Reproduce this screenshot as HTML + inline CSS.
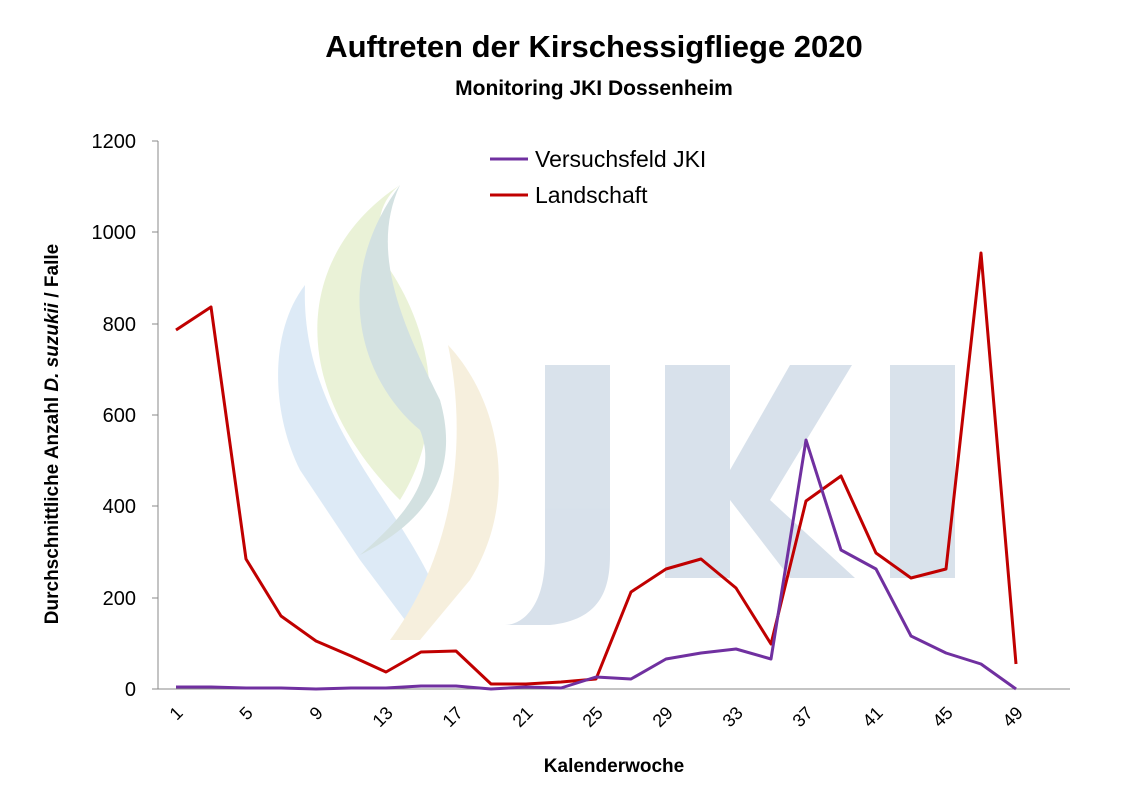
<!DOCTYPE html>
<html><head><meta charset="utf-8"><style>
body{margin:0;background:#fff;}
svg{display:block;font-family:"Liberation Sans",Calibri,sans-serif;}
</style></head><body>
<svg width="1132" height="800" viewBox="0 0 1132 800">
<rect width="1132" height="800" fill="#fff"/>
<g opacity="0.5">
<path d="M305 285 C270 330,270 410,300 470 L360 560 L420 640 L440 600 C400 500,300 420,305 285Z" fill="#bcd7ef"/>
<path d="M400 185 C300 250,280 380,400 500 C450 420,430 330,390 270 C370 230,380 200,400 185Z" fill="#d6e6b0"/>
<path d="M448 345 C500 400,520 500,470 580 L420 640 L390 640 C450 560,470 450,448 345Z" fill="#efe0bc"/>
<path d="M400 185 C330 280,360 380,420 430 C440 480,400 520,360 555 C430 520,460 470,440 400 C400 320,370 250,400 185Z" fill="#a8c4c4"/>
<g fill="#b3c5d8">
<rect x="545" y="365" width="65" height="190"/>
<path d="M545 555 C545 610,520 625,505 625 L550 625 C600 620,610 590,610 555Z"/>
<rect x="665" y="365" width="65" height="213"/>
<path d="M730 470 L790 365 L852 365 L770 500 L855 578 L790 578 L730 500Z"/>
<rect x="890" y="365" width="65" height="213"/>
</g>
</g>
<text x="594" y="57" font-size="31" font-weight="bold" text-anchor="middle">Auftreten der Kirschessigfliege 2020</text>
<text x="594" y="95" font-size="21" font-weight="bold" text-anchor="middle">Monitoring JKI Dossenheim</text>
<line x1="158" y1="141" x2="158" y2="689" stroke="#888"/>
<line x1="158" y1="689" x2="1070" y2="689" stroke="#888"/>
<g stroke="#888">
<line x1="152" y1="141" x2="158" y2="141"/><line x1="152" y1="232" x2="158" y2="232"/><line x1="152" y1="324" x2="158" y2="324"/><line x1="152" y1="415" x2="158" y2="415"/><line x1="152" y1="506" x2="158" y2="506"/><line x1="152" y1="598" x2="158" y2="598"/><line x1="152" y1="689" x2="158" y2="689"/>
</g>
<g font-size="20" text-anchor="end">
<text x="136" y="148">1200</text><text x="136" y="239">1000</text><text x="136" y="331">800</text><text x="136" y="422">600</text><text x="136" y="513">400</text><text x="136" y="605">200</text><text x="136" y="696">0</text>
</g>
<g font-size="18" text-anchor="end">
<text transform="translate(184,714) rotate(-45)">1</text>
<text transform="translate(254,714) rotate(-45)">5</text>
<text transform="translate(324,714) rotate(-45)">9</text>
<text transform="translate(394,714) rotate(-45)">13</text>
<text transform="translate(464,714) rotate(-45)">17</text>
<text transform="translate(534,714) rotate(-45)">21</text>
<text transform="translate(604,714) rotate(-45)">25</text>
<text transform="translate(674,714) rotate(-45)">29</text>
<text transform="translate(744,714) rotate(-45)">33</text>
<text transform="translate(814,714) rotate(-45)">37</text>
<text transform="translate(884,714) rotate(-45)">41</text>
<text transform="translate(954,714) rotate(-45)">45</text>
<text transform="translate(1024,714) rotate(-45)">49</text>
</g>
<text x="614" y="772" font-size="19" font-weight="bold" text-anchor="middle">Kalenderwoche</text>
<text transform="translate(58,434) rotate(-90)" font-size="19" font-weight="bold" text-anchor="middle">Durchschnittliche Anzahl <tspan font-style="italic">D. suzukii</tspan> / Falle</text>
<polyline fill="none" stroke="#c00000" stroke-width="3" stroke-linejoin="round" points="176,330 211,307 246,559 281,616 316,641 351,656 386,672 421,652 456,651 491,684 526,684 561,682 596,679 631,592 666,569 701,559 736,588 771,644 806,501 841,476 876,553 911,578 946,569 981,253 1016,664"/>
<polyline fill="none" stroke="#7030a0" stroke-width="3" stroke-linejoin="round" points="176,687 211,687 246,688 281,688 316,689 351,688 386,688 421,686 456,686 491,689 526,687 561,688 596,677 631,679 666,659 701,653 736,649 771,659 806,440 841,550 876,569 911,636 946,653 981,664 1016,689"/>
<line x1="490" y1="159" x2="528" y2="159" stroke="#7030a0" stroke-width="3"/>
<text x="535" y="167" font-size="23">Versuchsfeld JKI</text>
<line x1="490" y1="195" x2="528" y2="195" stroke="#c00000" stroke-width="3"/>
<text x="535" y="203" font-size="23">Landschaft</text>
</svg>
</body></html>
